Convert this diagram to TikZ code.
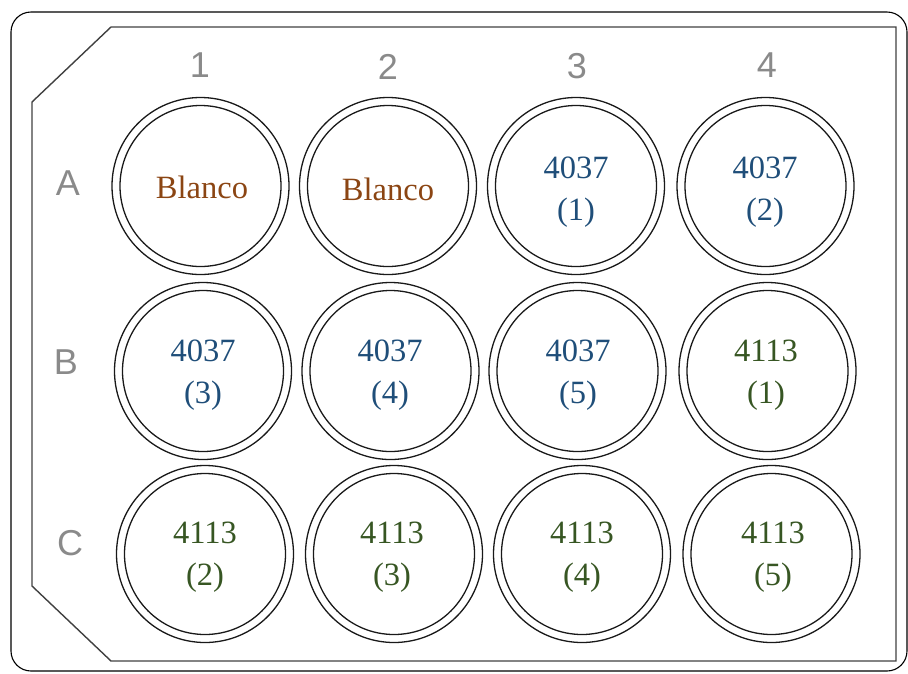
\documentclass[tikz,border=0pt]{standalone}
\usepackage{fontspec}
\setmainfont{Liberation Serif}
\newfontfamily\lblfont{Liberation Sans}
\definecolor{blancoc}{HTML}{8B4513}
\definecolor{bluec}{HTML}{1F4E79}
\definecolor{greenc}{HTML}{375623}
\definecolor{lblc}{HTML}{8A8A8A}
\begin{document}
\begin{tikzpicture}[x=1pt,y=-1pt,
  wellout/.style={circle,draw=black!90,line width=1.3pt,minimum size=177pt,inner sep=0pt},
  wellin/.style={circle,draw=black!90,line width=1.3pt,minimum size=161pt,inner sep=0pt},
  welltxt/.style={align=center,font=\fontsize{32.5}{42}\selectfont,inner sep=0pt},
  lbl/.style={font=\lblfont\fontsize{36}{40}\selectfont,text=lblc,inner sep=0pt}]
\useasboundingbox (0,0) rectangle (908,673);
% outer frame
\draw[line width=1.1pt,rounded corners=20pt] (11,12) rectangle (907,671);
% plate
\draw[line width=1.4pt,draw=black!75] (111,27) -- (896,27) -- (896,661) -- (111,661) -- (32,586) -- (32,102) -- cycle;
% column labels
\node[lbl] (c1) at (200,65) {1};
\node[lbl] (c2) at (388,67) {2};
\node[lbl] (c3) at (577,66) {3};
\node[lbl] (c4) at (767,65) {4};
% row labels
\node[lbl] (rA) at (68,183) {A};
\node[lbl] (rB) at (66,362) {B};
\node[lbl] (rC) at (70,543) {C};
% wells
\foreach \n/\x/\y in {A1/200.5/186,A2/388/186,A3/576/186,A4/765.5/186,
                      B1/203/371,B2/390.5/371,B3/577.5/371,B4/767.5/371,
                      C1/205/554,C2/394/554,C3/582/554,C4/771.5/554}{
  \node[wellout] (o\n) at (\x,\y) {};
  \node[wellin] (i\n) at (\x,\y) {};
}
% texts
\node[welltxt,text=blancoc] (tA1) at (202,187) {Blanco};
\node[welltxt,text=blancoc] (tA2) at (388,189) {Blanco};
\node[welltxt,text=bluec] (tA3) at (576,192) {4037\\(1)};
\node[welltxt,text=bluec] (tA4) at (765,192) {4037\\(2)};
\node[welltxt,text=bluec] (tB1) at (203,375) {4037\\(3)};
\node[welltxt,text=bluec] (tB2) at (390,375) {4037\\(4)};
\node[welltxt,text=bluec] (tB3) at (578,375) {4037\\(5)};
\node[welltxt,text=greenc] (tB4) at (766,375) {4113\\(1)};
\node[welltxt,text=greenc] (tC1) at (205,557) {4113\\(2)};
\node[welltxt,text=greenc] (tC2) at (392,557) {4113\\(3)};
\node[welltxt,text=greenc] (tC3) at (582,557) {4113\\(4)};
\node[welltxt,text=greenc] (tC4) at (773,557) {4113\\(5)};
\end{tikzpicture}
\end{document}
